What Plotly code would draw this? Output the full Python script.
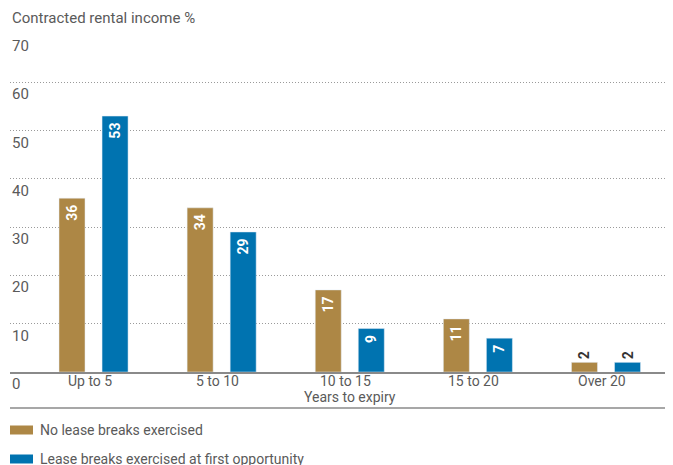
import plotly.graph_objects as go

categories = ["Up to 5", "5 to 10", "10 to 15", "15 to 20", "Over 20"]
no_breaks = [36, 34, 17, 11, 2]
breaks_first = [53, 29, 9, 7, 2]
series_names = ["No lease breaks exercised", "Lease breaks exercised at first opportunity"]
y_ticks = [0, 10, 20, 30, 40, 50, 60, 70]
y_title = "Contracted rental income %"
x_title = "Years to expiry"

GOLD = "#AD8745"
BLUE = "#0073B0"
TEXT = "#5a5a5a"
FONT = "Roboto"

W, H = 673, 465
OFF = 8  # page body margin
# target pixel layout (in screenshot coordinates)
PLOT_L, PLOT_R, PLOT_T, PLOT_B = 10, 673, 34, 372
ML = PLOT_L - OFF
MR = W - (PLOT_R - OFF)
MT = PLOT_T - OFF
MB = H - (PLOT_B - OFF)
PH = PLOT_B - PLOT_T
PW = PLOT_R - PLOT_L


def py(p):
    # screenshot pixel row -> paper y
    return (PLOT_B - p) / PH


def px(p):
    return (p - PLOT_L) / PW


def positions(vals, thresh=3):
    return ["outside" if v < thresh else "inside" for v in vals]


def tcolors(vals, thresh=3):
    return ["#333333" if v < thresh else "white" for v in vals]


def labels(vals, thresh=3):
    return [str(v) if v < thresh else str(v) + "\u00a0" for v in vals]


fig = go.Figure()
bw = 0.203
for vals, color, off, name in [
    (no_breaks, GOLD, -0.168 - bw / 2, series_names[0]),
    (breaks_first, BLUE, 0.168 - bw / 2, series_names[1]),
]:
    fig.add_trace(go.Bar(
        x=categories, y=vals, name=name, marker_color=color,
        width=bw, offset=off,
        text=labels(vals), textposition=positions(vals),
        insidetextanchor="end", textangle=-90,
        textfont=dict(family=FONT, size=14, color=tcolors(vals), weight="bold"),
        outsidetextfont=dict(family=FONT, size=14, color="#333333", weight="bold"),
        constraintext="none", cliponaxis=False, showlegend=False,
    ))

fig.update_layout(
    width=W, height=H, margin=dict(l=ML, r=MR, t=MT, b=MB),
    paper_bgcolor="white", plot_bgcolor="white",
    font=dict(family=FONT, color=TEXT, size=14),
    barmode="overlay",
    xaxis=dict(type="category", range=[-0.652, 4.523], showgrid=False,
               showline=True, linecolor="#8a8a8a", linewidth=1.5,
               ticks="", showticklabels=False, zeroline=False),
    yaxis=dict(range=[0, 70], tickvals=y_ticks[1:], showticklabels=False,
               showgrid=True, gridcolor="#9a9a9a", gridwidth=1, griddash="1px,2px",
               zeroline=False, showline=False, ticks=""),
)

annotations = []
for t in y_ticks:
    annotations.append(dict(xref="paper", yref="y", x=0, y=t, xanchor="left", yanchor="top",
                            yshift=-1, text=str(t), showarrow=False,
                            font=dict(size=15, color=TEXT, family=FONT)))
for c in categories:
    annotations.append(dict(xref="x", yref="paper", x=c, y=py(381), xanchor="center",
                            yanchor="middle", xshift=-4, text=c, showarrow=False,
                            font=dict(size=14, color=TEXT, family=FONT)))
annotations.append(dict(xref="paper", yref="paper", x=0, y=py(18), xanchor="left", yanchor="middle",
                        text=y_title, showarrow=False, font=dict(size=15, color=TEXT, family=FONT)))
annotations.append(dict(xref="x", yref="paper", x=categories[2], y=py(397), xanchor="center",
                        yanchor="middle", text=x_title, showarrow=False,
                        font=dict(size=14, color=TEXT, family=FONT)))
shapes = [dict(type="line", xref="paper", yref="paper", x0=0, x1=1, y0=py(408), y1=py(408),
               line=dict(color="#8a8a8a", width=1.5))]
for i, (name, color) in enumerate(zip(series_names, [GOLD, BLUE])):
    cy = 430 + i * 29
    shapes.append(dict(type="rect", xref="paper", yref="paper", x0=px(10), x1=px(33),
                       y0=py(cy - 4.5), y1=py(cy + 4.5), fillcolor=color, line=dict(width=0)))
    annotations.append(dict(xref="paper", yref="paper", x=px(38), y=py(cy), xanchor="left",
                            yanchor="middle", text=name, showarrow=False,
                            font=dict(size=14, color=TEXT, family=FONT)))
fig.update_layout(annotations=annotations, shapes=shapes)

fig.write_html("out.html")
